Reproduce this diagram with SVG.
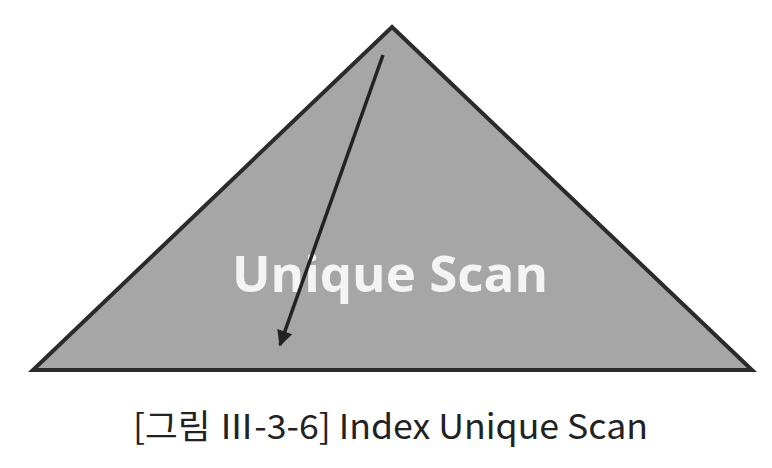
<svg xmlns="http://www.w3.org/2000/svg" width="772" height="468" viewBox="0 0 772 468">
<defs>
<marker id="ah" viewBox="0 0 10 10" refX="9" refY="5" markerWidth="5.5" markerHeight="4.5" orient="auto" markerUnits="strokeWidth">
<path d="M0,0 L10,5 L0,10 z" fill="#222"/>
</marker>
</defs>
<style>
.tri{fill:#a6a6a6;stroke:#2b2b2b;stroke-width:4;stroke-linejoin:miter}
.lbl{font-family:"Open Sans","Liberation Sans",sans-serif;font-weight:bold;fill:#f4f4f4;font-size:50px}
.cap{font-family:"Noto Sans CJK KR","Noto Sans",sans-serif;fill:#222;font-size:34px}
</style>
<rect width="772" height="468" fill="#fff"/>
<g id="tree">
<polygon class="tri" points="392,27 752,370 33,370"/>
<text class="lbl" x="390" y="292" text-anchor="middle" textLength="316" lengthAdjust="spacingAndGlyphs">Unique Scan</text>
</g>
<g id="connectors">
<line x1="383" y1="55" x2="280" y2="345" stroke="#222" stroke-width="3.5" marker-end="url(#ah)"/>
</g>
<g id="caption">
<text class="cap" x="133" y="439" textLength="515" lengthAdjust="spacingAndGlyphs">[그림 Ⅲ-3-6] Index Unique Scan</text>
</g>
</svg>
